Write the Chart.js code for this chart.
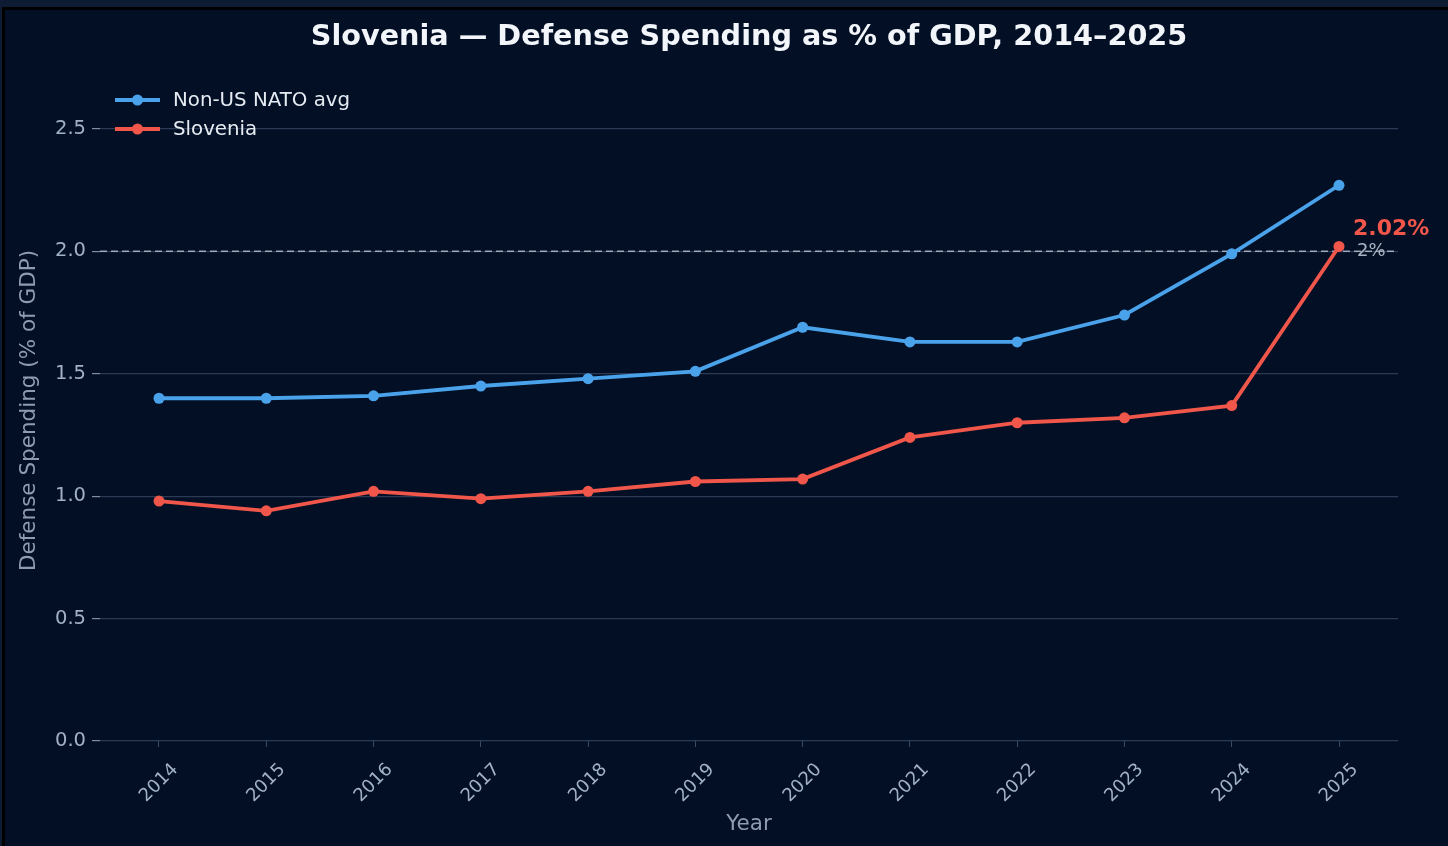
<!DOCTYPE html>
<html>
<head>
<meta charset="utf-8">
<script src="https://cdn.jsdelivr.net/npm/chart.js@4.4.1/dist/chart.umd.min.js"></script>
<style>
  html, body { margin: 0; padding: 0; background: #0d1b33; }
  #wrap { width: 1448px; height: 846px; }
</style>
</head>
<body>
<div id="wrap"><canvas id="chart" width="1448" height="846"></canvas></div>
<script>
// values
var years = [2014, 2015, 2016, 2017, 2018, 2019, 2020, 2021, 2022, 2023, 2024, 2025];
var natoAvg = [1.40, 1.40, 1.41, 1.45, 1.48, 1.51, 1.69, 1.63, 1.63, 1.74, 1.99, 2.27];
var slovenia = [0.98, 0.94, 1.02, 0.99, 1.02, 1.06, 1.07, 1.24, 1.30, 1.32, 1.37, 2.02];
var yTicks = [0, 0.5, 1.0, 1.5, 2.0, 2.5];
var target = 2.0;

var BLUE = '#4aa3ea';
var RED = '#f0564a';
var FONT = "'DejaVu Sans', sans-serif";

function points(vals) {
  return vals.map(function (v, i) { return { x: years[i], y: v }; });
}

// frame and background behind everything
var backdrop = {
  id: 'backdrop',
  beforeDraw: function (chart) {
    var ctx = chart.ctx;
    ctx.save();
    ctx.fillStyle = '#0d1b33';
    ctx.fillRect(0, 0, chart.width, chart.height);
    ctx.fillStyle = '#000000';
    ctx.fillRect(2, 7, chart.width - 2, chart.height - 7);
    ctx.fillStyle = '#020f25';
    ctx.fillRect(5, 10, chart.width - 5, chart.height - 10);
    ctx.restore();
  }
};

// the dashed 2% line, under the data
var targetLine = {
  id: 'targetLine',
  beforeDatasetsDraw: function (chart) {
    var ctx = chart.ctx, a = chart.chartArea;
    var y = chart.scales.y.getPixelForValue(target);
    ctx.save();
    ctx.strokeStyle = 'rgba(200,208,220,0.75)';
    ctx.lineWidth = 1.5;
    ctx.setLineDash([7, 4]);
    ctx.beginPath();
    ctx.moveTo(a.left, y);
    ctx.lineTo(a.right, y);
    ctx.stroke();
    ctx.restore();
  }
};

// legend inside the plot, rotated year labels and end annotations
var extras = {
  id: 'extras',
  afterDraw: function (chart) {
    var ctx = chart.ctx;
    var xs = chart.scales.x, ys = chart.scales.y;
    ctx.save();

    // year labels, centred under each tick at 45 degrees
    ctx.fillStyle = '#a3b1c6';
    ctx.font = '18px ' + FONT;
    ctx.textAlign = 'center';
    ctx.textBaseline = 'middle';
    years.forEach(function (yr) {
      ctx.save();
      ctx.translate(xs.getPixelForValue(yr), xs.top + 42);
      ctx.rotate(-Math.PI / 4);
      ctx.fillText(String(yr), 0, 0);
      ctx.restore();
    });

    // legend
    var rows = [[BLUE, 'Non-US NATO avg', 100], [RED, 'Slovenia', 129]];
    rows.forEach(function (r) {
      ctx.strokeStyle = r[0];
      ctx.lineWidth = 3.8;
      ctx.beginPath();
      ctx.moveTo(115, r[2]);
      ctx.lineTo(160, r[2]);
      ctx.stroke();
      ctx.fillStyle = r[0];
      ctx.beginPath();
      ctx.arc(137.5, r[2], 5.5, 0, Math.PI * 2);
      ctx.fill();
      ctx.fillStyle = '#e6ebf2';
      ctx.font = '19.8px ' + FONT;
      ctx.textAlign = 'left';
      ctx.textBaseline = 'middle';
      ctx.fillText(r[1], 173, r[2] + 1);
    });

    // end labels
    var last = years.length - 1;
    var px = xs.getPixelForValue(years[last]);
    ctx.textAlign = 'left';
    ctx.textBaseline = 'middle';
    ctx.fillStyle = '#a9b3c2';
    ctx.font = '18px ' + FONT;
    ctx.fillText('2%', px + 18, ys.getPixelForValue(target) + 0);
    ctx.fillStyle = RED;
    ctx.font = 'bold 22px ' + FONT;
    ctx.fillText(slovenia[last].toFixed(2) + '%', px + 14, ys.getPixelForValue(slovenia[last]) - 17);

    ctx.restore();
  }
};

new Chart(document.getElementById('chart'), {
  type: 'line',
  data: {
    datasets: [{
      label: 'Non-US NATO avg',
      data: points(natoAvg),
      borderColor: BLUE,
      backgroundColor: BLUE,
      borderWidth: 3.8,
      pointRadius: 5.5,
      pointBorderWidth: 0,
      pointBackgroundColor: BLUE,
      tension: 0
    }, {
      label: 'Slovenia',
      data: points(slovenia),
      borderColor: RED,
      backgroundColor: RED,
      borderWidth: 3.8,
      pointRadius: 5.5,
      pointBorderWidth: 0,
      pointBackgroundColor: RED,
      tension: 0
    }]
  },
  options: {
    responsive: false,
    animation: false,
    devicePixelRatio: 1,
    layout: { padding: { top: 10, left: 5, right: 50, bottom: 0 } },
    plugins: {
      legend: { display: false },
      tooltip: { enabled: false },
      title: {
        display: true,
        text: 'Slovenia \u2014 Defense Spending as % of GDP, 2014\u20132025',
        color: '#f2f5f9',
        fullSize: false,
        font: { family: FONT, size: 28.7, weight: 'bold', lineHeight: 1.2 },
        padding: { top: 10.8, bottom: 24.76 }
      }
    },
    scales: {
      x: {
        type: 'linear',
        min: years[0] - 0.55,
        max: years[years.length - 1] + 0.55,
        afterBuildTicks: function (scale) {
          scale.ticks = years.map(function (v) { return { value: v }; });
        },
        afterFit: function (scale) { scale.height = 105; },
        border: { display: false },
        grid: { drawOnChartArea: false, drawTicks: true, tickLength: 6, tickColor: '#3a4a63' },
        ticks: {
          autoSkip: false, minRotation: 45, maxRotation: 45,
          color: 'rgba(0,0,0,0)',
          font: { family: FONT, size: 18 },
          callback: function (v) { return String(v); }
        },
        title: {
          display: true, text: 'Year', color: '#8e9bb0',
          font: { family: FONT, size: 21.5 },
          padding: { top: 9, bottom: 9 }
        }
      },
      y: {
        min: 0,
        max: 2.7,
        afterBuildTicks: function (scale) {
          scale.ticks = yTicks.map(function (v) { return { value: v }; });
        },
        afterFit: function (scale) { scale.width = 95; },
        border: { display: false },
        grid: { color: '#2c3b55', lineWidth: 1.2, drawTicks: true, tickLength: 8, tickColor: '#7f8ca1' },
        ticks: {
          color: '#a3b1c6', padding: 6,
          font: { family: FONT, size: 19.5 },
          callback: function (v) { return Number(v).toFixed(1); }
        },
        title: {
          display: true, text: 'Defense Spending (% of GDP)', color: '#8e9bb0',
          font: { family: FONT, size: 21.5 },
          padding: { top: 12, bottom: 0 }
        }
      }
    }
  },
  plugins: [backdrop, targetLine, extras]
});
</script>
</body>
</html>
